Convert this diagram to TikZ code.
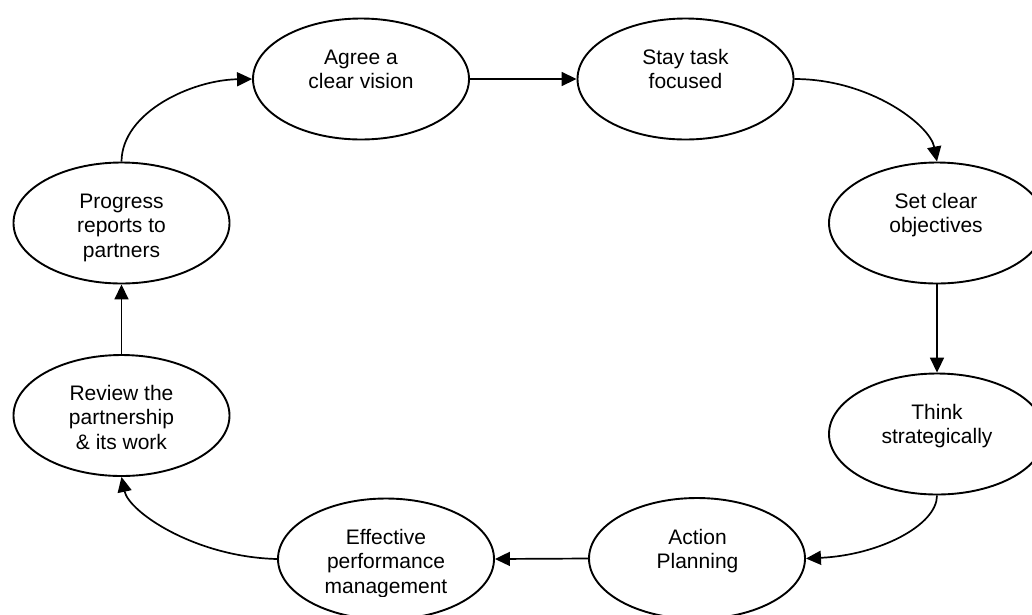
\documentclass[tikz,border=0pt]{standalone}
\usepackage{fontspec}
\setmainfont{Liberation Sans}
\usetikzlibrary{shapes.geometric,arrows.meta}
\tikzset{
  stage/.style={ellipse, draw, line width=1.9pt, minimum width=216pt, minimum height=121pt, inner sep=0pt},
  stagetext/.style={anchor=north, align=center, inner sep=0pt, font=\fontsize{21}{24.5}\selectfont},
  flow/.style={line width=1.7pt, -{Triangle[length=15pt,width=14pt]}},
}
\begin{document}
\begin{tikzpicture}[x=1pt,y=-1pt]
\useasboundingbox (0,0) rectangle (1032,614);
\clip (0,0) rectangle (1032,614);
% stages
\node[stage] (agree) at (361,79) {};
\node[stage] (stay) at (685.5,79) {};
\node[stage] (set) at (937,223) {};
\node[stage] (think) at (937,434) {};
\node[stage] (action) at (697,558.5) {};
\node[stage] (effective) at (386,559) {};
\node[stage] (review) at (121.5,415.5) {};
\node[stage] (progress) at (121.5,223) {};
% texts
\node[stagetext] (agree-t) at (361,46.85) {\strut Agree a\\clear vision};
\node[stagetext] (stay-t) at (685.5,46.85) {\strut Stay task\\focused};
\node[stagetext] (set-t) at (936,190.85) {\strut Set clear\\objectives};
\node[stagetext] (think-t) at (937,401.85) {\strut Think\\strategically};
\node[stagetext] (action-t) at (697.5,526.85) {\strut Action\\Planning};
\begin{scope}
  \clip (0,0) rectangle (1032,596);
  \node[stagetext] (effective-t) at (386,526.85) {\strut Effective\\performance\\management};
\end{scope}
\node[stagetext] (review-t) at (121.5,382.85) {\strut Review the\\partnership\\\& its work};
\node[stagetext] (progress-t) at (121.5,190.85) {\strut Progress\\reports to\\partners};
% connectors
\draw[flow] (agree.east) -- (stay.west);
\draw[flow] (stay.east) .. controls (870,79) and (930,125) .. (set.north);
\draw[flow] (set.south) -- (think.north);
\draw[flow] (think.south) .. controls (937,525) and (880,555) .. (action.east);
\draw[flow] (action.west) -- (effective.east);
\draw[flow] (effective.west) .. controls (195,557) and (129,512) .. (review.south);
\draw[flow] (review.north) -- (progress.south);
\draw[flow] (progress.north) .. controls (122,112) and (192,80) .. (agree.west);
\end{tikzpicture}
\end{document}
